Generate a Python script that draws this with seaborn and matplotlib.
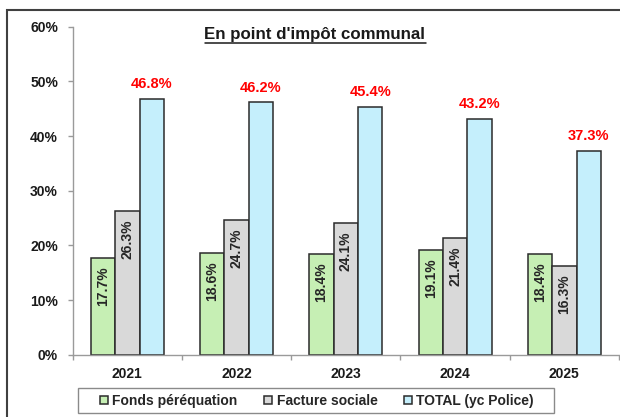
import matplotlib
matplotlib.use("Agg")
import matplotlib.pyplot as plt
from matplotlib.patches import Rectangle
from matplotlib.lines import Line2D
from matplotlib.ticker import FuncFormatter, FixedLocator
import seaborn as sns
import pandas as pd

years = ["2021", "2022", "2023", "2024", "2025"]
series = ["Fonds péréquation", "Facture sociale", "TOTAL (yc Police)"]
fonds = [17.7, 18.6, 18.4, 19.1, 18.4]
facture = [26.3, 24.7, 24.1, 21.4, 16.3]
total = [46.8, 46.2, 45.4, 43.2, 37.3]
title = "En point d'impôt communal"

colors = ["#c6efb4", "#d9d9d9", "#c5effc"]

rows = []
for name, vals in zip(series, [fonds, facture, total]):
    for y, v in zip(years, vals):
        rows.append({"year": y, "serie": name, "value": v})
df = pd.DataFrame(rows)

sns.set_style("white")
plt.rcParams["font.family"] = ["Liberation Sans", "DejaVu Sans"]
plt.rcParams["font.weight"] = "bold"

W, H = 620, 417
fig = plt.figure(figsize=(W / 100, H / 100), dpi=100)
ax = fig.add_axes([72.7 / W, 1 - 354.7 / H, (619 - 72.7) / W, (354.7 - 26.7) / H])

sns.barplot(data=df, x="year", y="value", hue="serie", palette=colors,
            width=0.67, edgecolor="#2b2b2b", linewidth=1.1, ax=ax,
            legend=True, saturation=1)

ax.set_ylim(0, 60)
ax.set_xlim(-0.5, 4.5)
ax.set_xlabel("")
ax.set_ylabel("")
ax.yaxis.set_major_locator(FixedLocator([0, 10, 20, 30, 40, 50, 60]))
ax.yaxis.set_major_formatter(FuncFormatter(lambda v, p: f"{v:.0f}%"))
for s in ["top", "right"]:
    ax.spines[s].set_visible(False)
for s in ["left", "bottom"]:
    ax.spines[s].set_color("#9a9a9a")
    ax.spines[s].set_linewidth(1.0)

ax.tick_params(axis="y", which="major", direction="out", length=3.6, width=1,
               color="#9a9a9a", pad=7, labelsize=10, left=True)
ax.tick_params(axis="x", which="major", length=0, pad=9, labelsize=10)
ax.set_xticks([-0.5, 0.5, 1.5, 2.5, 3.5, 4.5], minor=True)
ax.tick_params(axis="x", which="minor", direction="out", length=3.6, width=1,
               color="#9a9a9a", bottom=True)
for lab in ax.get_xticklabels() + ax.get_yticklabels():
    lab.set_fontweight("bold")
    lab.set_color("#1a1a1a")

# value labels
for i, cont in enumerate(ax.containers):
    for p in cont.patches:
        h = p.get_height()
        x = p.get_x() + p.get_width() / 2
        if i < 2:
            ax.annotate(f"{h:.1f}%", (x, h), xytext=(0, -6), textcoords="offset points",
                        rotation=90, ha="center", va="top", fontsize=10,
                        fontweight="bold", color="#262626")
        else:
            ax.annotate(f"{h:.1f}%", (x, h), xytext=(0, 5.5), textcoords="offset points",
                        ha="center", va="bottom", fontsize=10.5,
                        fontweight="bold", color="#ff0000")

# legend
leg = ax.get_legend()
handles, labels = ax.get_legend_handles_labels()
if leg is not None:
    leg.remove()
fig.legend(handles, labels, loc="center", bbox_to_anchor=(317 / W, 1 - 401 / H),
           ncol=3, frameon=False,
           handlelength=0.55, handleheight=0.55, handletextpad=0.35,
           columnspacing=1.9, borderpad=0.45, prop={"weight": "bold", "size": 10})
fig.add_artist(Rectangle((78 / W, 1 - 413 / H), (554 - 78) / W, 25 / H,
                         transform=fig.transFigure, fill=False,
                         edgecolor="#8a8a8a", linewidth=1.0))

# title with underline
t = fig.text(315 / W, 1 - 35 / H, title, ha="center", va="center",
             fontsize=12.2, fontweight="bold", color="#1a1a1a")
fig.canvas.draw()
bb = t.get_window_extent(renderer=fig.canvas.get_renderer())
uy = bb.y0 - 0.5
fig.add_artist(Line2D([bb.x0 / W, bb.x1 / W], [uy / H, uy / H],
                      transform=fig.transFigure, color="#1a1a1a", linewidth=1.1))

# outer frame
fig.add_artist(Rectangle((7 / W, -0.2), 1.2, 1.2 - 10 / H, transform=fig.transFigure,
                         fill=False, edgecolor="#404040", linewidth=1.5))

fig.savefig("out.png", dpi=100)
